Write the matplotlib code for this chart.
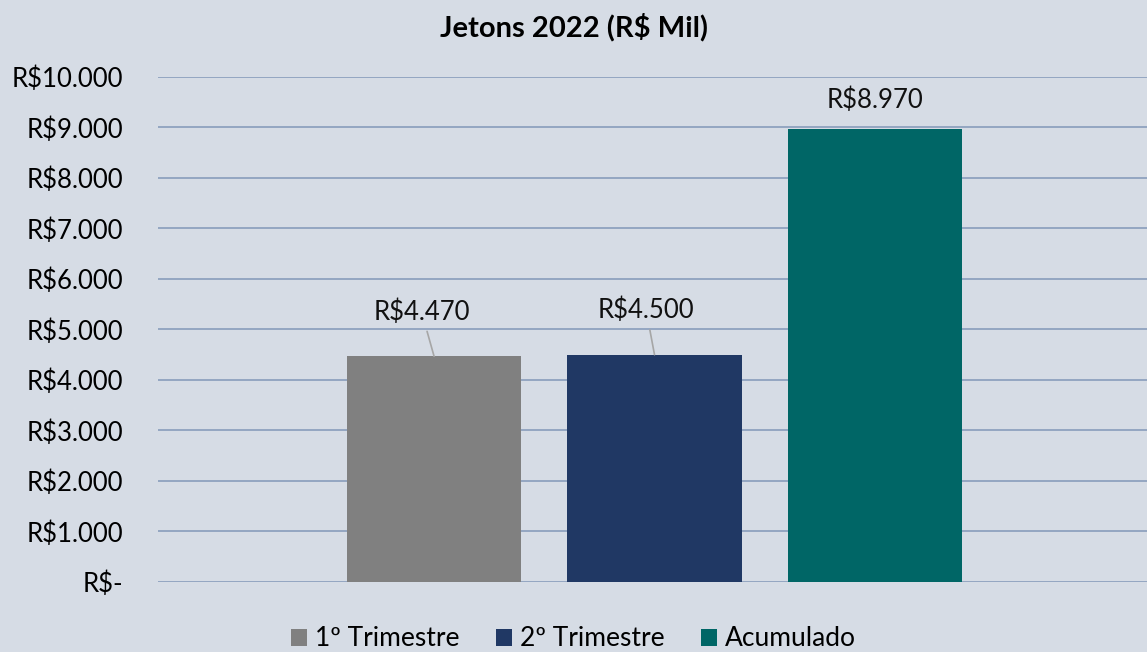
import matplotlib.pyplot as plt
from matplotlib.patches import Patch

plt.rcParams['font.family'] = ['Lato', 'DejaVu Sans']

series = ['1º Trimestre', '2º Trimestre', 'Acumulado']
values = [4470, 4500, 8970]
colors = ['#808080', '#203864', '#006666']
yticks = [0, 1000, 2000, 3000, 4000, 5000, 6000, 7000, 8000, 9000, 10000]


def brl(v):
    if v == 0:
        return 'R$-'
    return 'R$' + f'{v:,.0f}'.replace(',', '.')


bg = '#D6DCE5'
fs = 18.5
fig = plt.figure(figsize=(11.47, 6.52), dpi=100, facecolor=bg)
ax = fig.add_axes([0.1378, 0.1074, 0.8622, 0.7745], facecolor=bg)

x = list(range(len(series)))
ax.bar(x, values, width=0.79, color=colors, zorder=3)

ax.set_xlim(-1.252, 3.234)
ax.set_ylim(0, 10000)
ax.set_yticks(yticks)
ax.set_yticklabels([brl(v) for v in yticks], fontsize=fs)
ax.tick_params(axis='y', length=0, pad=25)
ax.set_xticks([])
ax.grid(axis='y', color='#8FA2BF', linewidth=1.3, zorder=0)
for s in ax.spines.values():
    s.set_visible(False)

# data labels (first two with leader lines)
offsets = [(-9, 32), (-6, 32), (0, 21)]
for i, v in enumerate(values):
    dx, dy = offsets[i]
    if i < 2:
        ax.annotate(brl(v), xy=(i, v), xytext=(dx, dy), textcoords='offset points',
                    ha='center', va='center', fontsize=fs, color='#111111',
                    arrowprops=dict(arrowstyle='-', color='#A6A6A6', lw=1.2,
                                    shrinkA=3, shrinkB=0))
    else:
        ax.annotate(brl(v), xy=(i, v), xytext=(dx, dy), textcoords='offset points',
                    ha='center', va='center', fontsize=fs, color='#111111')

fig.text(0.5, 0.958, 'Jetons 2022 (R$ Mil)', ha='center', va='center',
         fontsize=21, fontweight='bold')

handles = [Patch(facecolor=c, label=s) for s, c in zip(series, colors)]
fig.legend(handles=handles, loc='center', bbox_to_anchor=(0.5, 0.02), ncol=3,
           frameon=False, fontsize=19, handlelength=0.6, handleheight=0.6,
           handletextpad=0.3, columnspacing=1.4)

fig.savefig('out.png', dpi=100, facecolor=bg)
